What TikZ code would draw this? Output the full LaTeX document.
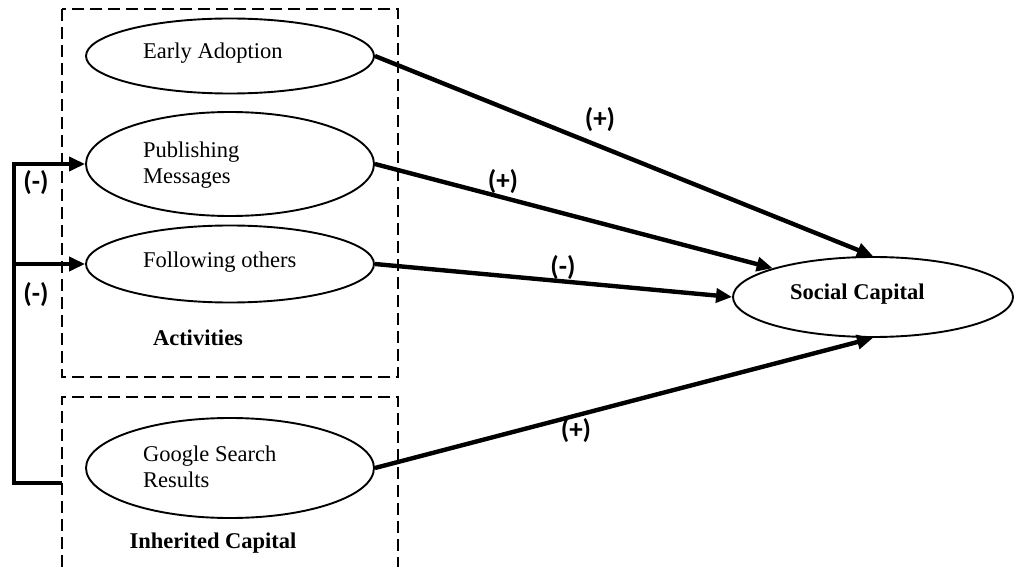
\documentclass[tikz,border=0pt]{standalone}
\usepackage{fontspec}
\setmainfont{Liberation Serif}
\newfontfamily\lblfont{Carlito}
\usetikzlibrary{shapes.geometric,arrows.meta}
\begin{document}
\begin{tikzpicture}[x=1pt,y=-1pt,
 oval/.style={ellipse,draw,line width=1.9pt,minimum width=288pt,minimum height=#1,inner sep=0pt},
 txt/.style={inner sep=0pt,font=\fontsize{22.5}{26}\selectfont,align=left},
 boldtxt/.style={inner sep=0pt,font=\fontsize{22.5}{26}\selectfont\bfseries},
 sign/.style={inner sep=0pt,font=\lblfont\fontsize{27}{30}\selectfont\bfseries},
 arr/.style={line width=4.4pt,-{Triangle[length=16pt,width=14pt]}},
 box/.style={dash pattern=on 12pt off 6pt,line width=1.9pt}
]
\useasboundingbox (0,0) rectangle (1015,567);
% boxes
\draw[box] (62,9) rectangle (398,377);
\draw[box] (62,567) |- (398,397) -- (398,567);
% ellipses
\node[oval=75pt] (ea) at (230,56) {};
\node[oval=104pt] (pm) at (230,164) {};
\node[oval=77pt] (fo) at (230,264) {};
\node[oval=100pt] (gs) at (230,468) {};
\node[ellipse,draw,line width=1.9pt,minimum width=280pt,minimum height=80pt,inner sep=0pt] (sc) at (873,297) {};
% texts
\node[txt,anchor=base west] (tea) at (143,59) {Early Adoption};
\node[txt,anchor=west] (tpm) at (143,165) {Publishing\\Messages};
\node[txt,anchor=base west] (tfo) at (143,267) {Following others};
\node[txt,anchor=west] (tgs) at (143,467) {Google Search\\Results};
\node[boldtxt,anchor=base west] (tsc) at (790,299) {Social Capital};
\node[boldtxt,anchor=base] (tact) at (198,345) {Activities};
\node[boldtxt,anchor=base] (tinh) at (213,548) {Inherited Capital};
% arrows to social capital
\draw[arr] (ea.east) -- (sc.north);
\draw[arr] (pm.east) -- (sc.164);
\draw[arr] (fo.east) -- (sc.west);
\draw[arr] (gs.east) -- (sc.south);
% feedback
\coordinate (fbs) at (62,483);
\coordinate (fbc) at (14,164);
\draw[arr] (fbs) -| (fbc) -- (pm.west);
\draw[arr] (fo.west -| fbc) -- (fo.west);
% sign labels
\node[sign] (s1) at (600,120) {(+)};
\node[sign] (s2) at (503,182) {(+)};
\node[sign] (s3) at (563,268) {(-)};
\node[sign] (s4) at (576,431) {(+)};
\node[sign] (s5) at (36,183) {(-)};
\node[sign] (s6) at (36,295) {(-)};
\end{tikzpicture}
\end{document}
